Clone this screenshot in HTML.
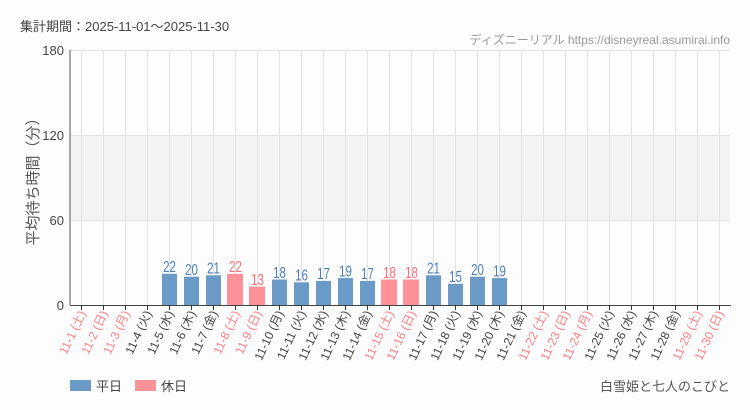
<!DOCTYPE html>
<html><head><meta charset="utf-8"><style>
body{margin:0;background:#fdfdfd;}
svg{display:block;font-family:"Liberation Sans","Noto Sans CJK JP",sans-serif;}
.v text{font-size:16px;text-anchor:middle;}
.l{font-size:12px;text-anchor:end;}
.h{fill:#ff7f86}.w{fill:#444}
</style></head><body>
<svg width="750" height="410" viewBox="0 0 750 410">
<rect width="750" height="410" fill="#fdfdfd"/>
<text x="20" y="31" font-size="13" fill="#444">集計期間：2025-11-01～2025-11-30</text>
<text x="730" y="44" font-size="12" fill="#999" text-anchor="end">ディズニーリアル <tspan>https://disneyreal.asumirai.info</tspan></text>
<rect x="70" y="135" width="660" height="85" fill="#f3f3f3"/>
<g stroke="#e2e2e2" stroke-width="1">
<line x1="70" y1="50.5" x2="730" y2="50.5"/><line x1="70" y1="135.5" x2="730" y2="135.5"/><line x1="70" y1="220.5" x2="730" y2="220.5"/>
<path d="M81.5 50V305M103.5 50V305M125.5 50V305M147.5 50V305M169.5 50V305M191.5 50V305M213.5 50V305M235.5 50V305M257.5 50V305M279.5 50V305M301.5 50V305M323.5 50V305M345.5 50V305M367.5 50V305M389.5 50V305M411.5 50V305M433.5 50V305M455.5 50V305M477.5 50V305M499.5 50V305M521.5 50V305M543.5 50V305M565.5 50V305M587.5 50V305M609.5 50V305M631.5 50V305M653.5 50V305M675.5 50V305M697.5 50V305M719.5 50V305"/>
</g>
<g font-size="13" fill="#444" text-anchor="end">
<text x="64" y="55">180</text><text x="64" y="140">120</text><text x="64" y="225">60</text><text x="64" y="310">0</text>
</g>
<text transform="translate(38,178) rotate(-90)" font-size="15" fill="#555" text-anchor="middle">平均待ち時間（分）</text>
<g>
<rect x="162" y="273.8" width="15" height="31.2" fill="#6a9ac6"/>
<rect x="184" y="276.7" width="15" height="28.3" fill="#6a9ac6"/>
<rect x="206" y="275.3" width="15" height="29.7" fill="#6a9ac6"/>
<rect x="227" y="273.8" width="16" height="31.2" fill="#ff9298"/>
<rect x="249" y="286.6" width="16" height="18.4" fill="#ff9298"/>
<rect x="272" y="279.5" width="15" height="25.5" fill="#6a9ac6"/>
<rect x="294" y="282.3" width="15" height="22.7" fill="#6a9ac6"/>
<rect x="316" y="280.9" width="15" height="24.1" fill="#6a9ac6"/>
<rect x="338" y="278.1" width="15" height="26.9" fill="#6a9ac6"/>
<rect x="360" y="280.9" width="15" height="24.1" fill="#6a9ac6"/>
<rect x="381" y="279.5" width="16" height="25.5" fill="#ff9298"/>
<rect x="403" y="279.5" width="16" height="25.5" fill="#ff9298"/>
<rect x="426" y="275.3" width="15" height="29.7" fill="#6a9ac6"/>
<rect x="448" y="283.8" width="15" height="21.2" fill="#6a9ac6"/>
<rect x="470" y="276.7" width="15" height="28.3" fill="#6a9ac6"/>
<rect x="492" y="278.1" width="15" height="26.9" fill="#6a9ac6"/>
</g>
<g class="v">
<text transform="translate(169.5,272) scale(0.72,1)" fill="#4a7fb5">22</text>
<text transform="translate(191.5,275) scale(0.72,1)" fill="#4a7fb5">20</text>
<text transform="translate(213.5,273.5) scale(0.72,1)" fill="#4a7fb5">21</text>
<text transform="translate(235.5,272) scale(0.72,1)" fill="#ff6f78">22</text>
<text transform="translate(257.5,285) scale(0.72,1)" fill="#ff6f78">13</text>
<text transform="translate(279.5,278) scale(0.72,1)" fill="#4a7fb5">18</text>
<text transform="translate(301.5,280.5) scale(0.72,1)" fill="#4a7fb5">16</text>
<text transform="translate(323.5,279) scale(0.72,1)" fill="#4a7fb5">17</text>
<text transform="translate(345.5,276.5) scale(0.72,1)" fill="#4a7fb5">19</text>
<text transform="translate(367.5,279) scale(0.72,1)" fill="#4a7fb5">17</text>
<text transform="translate(389.5,278) scale(0.72,1)" fill="#ff6f78">18</text>
<text transform="translate(411.5,278) scale(0.72,1)" fill="#ff6f78">18</text>
<text transform="translate(433.5,273.5) scale(0.72,1)" fill="#4a7fb5">21</text>
<text transform="translate(455.5,282) scale(0.72,1)" fill="#4a7fb5">15</text>
<text transform="translate(477.5,275) scale(0.72,1)" fill="#4a7fb5">20</text>
<text transform="translate(499.5,276.5) scale(0.72,1)" fill="#4a7fb5">19</text>
</g>
<line x1="70" y1="50" x2="70" y2="305" stroke="#555"/>
<line x1="70" y1="305.5" x2="731" y2="305.5" stroke="#444" stroke-width="1"/>
<path d="M81.5 305V310M103.5 305V310M125.5 305V310M147.5 305V310M169.5 305V310M191.5 305V310M213.5 305V310M235.5 305V310M257.5 305V310M279.5 305V310M301.5 305V310M323.5 305V310M345.5 305V310M367.5 305V310M389.5 305V310M411.5 305V310M433.5 305V310M455.5 305V310M477.5 305V310M499.5 305V310M521.5 305V310M543.5 305V310M565.5 305V310M587.5 305V310M609.5 305V310M631.5 305V310M653.5 305V310M675.5 305V310M697.5 305V310M719.5 305V310" stroke="#333"/>
<g class="l">
<text class="h" transform="translate(86,313) rotate(-65)">11-1 (土)</text>
<text class="h" transform="translate(108,313) rotate(-65)">11-2 (日)</text>
<text class="h" transform="translate(130,313) rotate(-65)">11-3 (月)</text>
<text class="w" transform="translate(152,313) rotate(-65)">11-4 (火)</text>
<text class="w" transform="translate(174,313) rotate(-65)">11-5 (水)</text>
<text class="w" transform="translate(196,313) rotate(-65)">11-6 (木)</text>
<text class="w" transform="translate(218,313) rotate(-65)">11-7 (金)</text>
<text class="h" transform="translate(240,313) rotate(-65)">11-8 (土)</text>
<text class="h" transform="translate(262,313) rotate(-65)">11-9 (日)</text>
<text class="w" transform="translate(284,313) rotate(-65)">11-10 (月)</text>
<text class="w" transform="translate(306,313) rotate(-65)">11-11 (火)</text>
<text class="w" transform="translate(328,313) rotate(-65)">11-12 (水)</text>
<text class="w" transform="translate(350,313) rotate(-65)">11-13 (木)</text>
<text class="w" transform="translate(372,313) rotate(-65)">11-14 (金)</text>
<text class="h" transform="translate(394,313) rotate(-65)">11-15 (土)</text>
<text class="h" transform="translate(416,313) rotate(-65)">11-16 (日)</text>
<text class="w" transform="translate(438,313) rotate(-65)">11-17 (月)</text>
<text class="w" transform="translate(460,313) rotate(-65)">11-18 (火)</text>
<text class="w" transform="translate(482,313) rotate(-65)">11-19 (水)</text>
<text class="w" transform="translate(504,313) rotate(-65)">11-20 (木)</text>
<text class="w" transform="translate(526,313) rotate(-65)">11-21 (金)</text>
<text class="h" transform="translate(548,313) rotate(-65)">11-22 (土)</text>
<text class="h" transform="translate(570,313) rotate(-65)">11-23 (日)</text>
<text class="h" transform="translate(592,313) rotate(-65)">11-24 (月)</text>
<text class="w" transform="translate(614,313) rotate(-65)">11-25 (火)</text>
<text class="w" transform="translate(636,313) rotate(-65)">11-26 (水)</text>
<text class="w" transform="translate(658,313) rotate(-65)">11-27 (木)</text>
<text class="w" transform="translate(680,313) rotate(-65)">11-28 (金)</text>
<text class="h" transform="translate(702,313) rotate(-65)">11-29 (土)</text>
<text class="h" transform="translate(724,313) rotate(-65)">11-30 (日)</text>
</g>
<rect x="70" y="380" width="21" height="11" fill="#6a9ac6"/>
<text x="96" y="391" font-size="13" fill="#444">平日</text>
<rect x="135" y="380" width="21" height="11" fill="#ff9298"/>
<text x="161" y="391" font-size="13" fill="#444">休日</text>
<text x="730" y="391" font-size="13" fill="#555" text-anchor="end">白雪姫と七人のこびと</text>
</svg>
</body></html>
